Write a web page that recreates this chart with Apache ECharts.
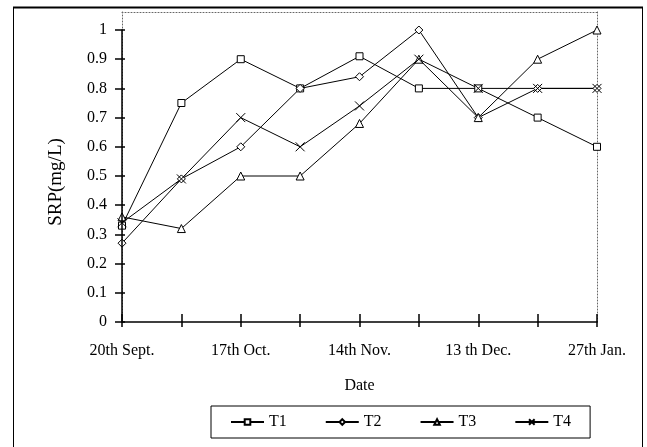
<!DOCTYPE html>
<html>
<head>
<meta charset="utf-8">
<script src="https://cdn.jsdelivr.net/npm/echarts@6/dist/echarts.min.js"></script>
<style>
html,body{margin:0;padding:0;background:#fff;}
#c{width:647px;height:447px;}
</style>
</head>
<body>
<div id="c"></div>
<script>
var categories = ['20th Sept.', '', '17th Oct.', '', '14th Nov.', '', '13 th Dec.', '', '27th Jan.'];
var T1 = [0.33, 0.75, 0.90, 0.80, 0.91, 0.80, 0.80, 0.70, 0.60];
var T2 = [0.27, 0.49, 0.60, 0.80, 0.84, 1.00, 0.70, 0.80, 0.80];
var T3 = [0.36, 0.32, 0.50, 0.50, 0.68, 0.90, 0.70, 0.90, 1.00];
var T4 = [0.34, 0.49, 0.70, 0.60, 0.74, 0.90, 0.80, 0.80, 0.80];
var seriesNames = ['T1', 'T2', 'T3', 'T4'];

var FONT = 'Liberation Serif';
var xPath = 'path://M0,0L10,10M10,0L0,10';
var symbols = ['rect', 'diamond', 'triangle', xPath];
var sizes = [7, 8, 8, 9];
var dataSets = [T1, T2, T3, T4];

var chart = echarts.init(document.getElementById('c'), null, {renderer: 'canvas'});

var series = dataSets.map(function (d, i) {
  return {
    name: seriesNames[i],
    type: 'line',
    xAxisIndex: 0,
    yAxisIndex: 0,
    data: d,
    symbol: symbols[i],
    symbolSize: sizes[i],
    showAllSymbol: true,
    animation: false,
    z: 5,
    lineStyle: {color: '#000', width: 1},
    itemStyle: {color: i === 3 ? 'rgba(0,0,0,0)' : '#fff', borderColor: '#000', borderWidth: 1},
    emphasis: {disabled: true}
  };
});

var dotted = {color: '#666', width: 1, type: [1, 2]};

var option = {
  animation: false,
  backgroundColor: '#fff',
  textStyle: {fontFamily: FONT, color: '#000'},
  grid: [
    {left: 122, right: 50, top: 30, bottom: 125, containLabel: false},
    {left: 122, right: 50, top: 12, bottom: 125, containLabel: false}
  ],
  xAxis: [
    {
      gridIndex: 0, type: 'category', data: categories, boundaryGap: false, position: 'bottom',
      name: 'Date', nameLocation: 'middle', nameGap: 56,
      nameTextStyle: {fontFamily: FONT, fontSize: 16, color: '#000'},
      axisLine: {show: true, lineStyle: {color: '#000', width: 1.5}},
      axisTick: {show: true, interval: 0, length: 5, lineStyle: {color: '#000', width: 1.5}},
      axisLabel: {interval: 0, margin: 21, fontFamily: FONT, fontSize: 16, color: '#000'},
      splitLine: {show: false}, z: 10
    },
    {
      gridIndex: 0, type: 'category', data: categories, boundaryGap: false, position: 'bottom',
      axisLine: {show: false},
      axisTick: {show: true, inside: true, interval: 0, length: 8, lineStyle: {color: '#000', width: 1.5}},
      axisLabel: {show: false},
      splitLine: {show: false}, z: 10
    },
    {
      gridIndex: 1, type: 'category', data: categories, boundaryGap: false, position: 'top',
      axisLine: {show: true, onZero: false, lineStyle: dotted},
      axisTick: {show: false}, axisLabel: {show: false}, splitLine: {show: false}, z: 1
    }
  ],
  yAxis: [
    {
      gridIndex: 0, type: 'value', min: 0, max: 1, interval: 0.1, position: 'left',
      name: 'SRP(mg/L)', nameLocation: 'middle', nameGap: 56, nameRotate: 90,
      nameTextStyle: {fontFamily: FONT, fontSize: 19, color: '#000', padding: [0, 12, 0, 0]},
      axisLine: {show: true, lineStyle: {color: '#000', width: 1.5}},
      axisTick: {show: true, length: 7, lineStyle: {color: '#000', width: 1.5}},
      axisLabel: {margin: 15, fontFamily: FONT, fontSize: 16, color: '#000'},
      splitLine: {show: false}, z: 10
    },
    {
      gridIndex: 0, type: 'value', min: 0, max: 1, interval: 0.1, position: 'left',
      axisLine: {show: false},
      axisTick: {show: true, inside: true, length: 3, lineStyle: {color: '#000', width: 1.5}},
      axisLabel: {show: false},
      splitLine: {show: false}, z: 10
    },
    {
      gridIndex: 1, type: 'value', min: 0, max: 1, position: 'left',
      axisLine: {show: true, onZero: false, lineStyle: dotted},
      axisTick: {show: false}, axisLabel: {show: false}, splitLine: {show: false}, z: 1
    },
    {
      gridIndex: 1, type: 'value', min: 0, max: 1, position: 'right',
      axisLine: {show: true, onZero: false, lineStyle: dotted},
      axisTick: {show: false}, axisLabel: {show: false}, splitLine: {show: false}, z: 1
    }
  ],
  legend: {
    data: seriesNames,
    left: 211, top: 406,
    orient: 'horizontal',
    itemWidth: 33, itemHeight: 7, itemGap: 38,
    padding: [8, 19, 8, 19],
    borderColor: '#000', borderWidth: 1,
    textStyle: {fontFamily: FONT, fontSize: 16, color: '#000'},
    selectedMode: false
  },
  graphic: [
    {type: 'rect', shape: {x: 13.5, y: 7.5, width: 629, height: 460}, style: {fill: 'none', stroke: '#000', lineWidth: 1}, silent: true, z: 100},
    {type: 'line', shape: {x1: 13, y1: 7.5, x2: 643, y2: 7.5}, style: {stroke: '#000', lineWidth: 2}, silent: true, z: 100}
  ],
  series: series
};
chart.setOption(option);
</script>
</body>
</html>
